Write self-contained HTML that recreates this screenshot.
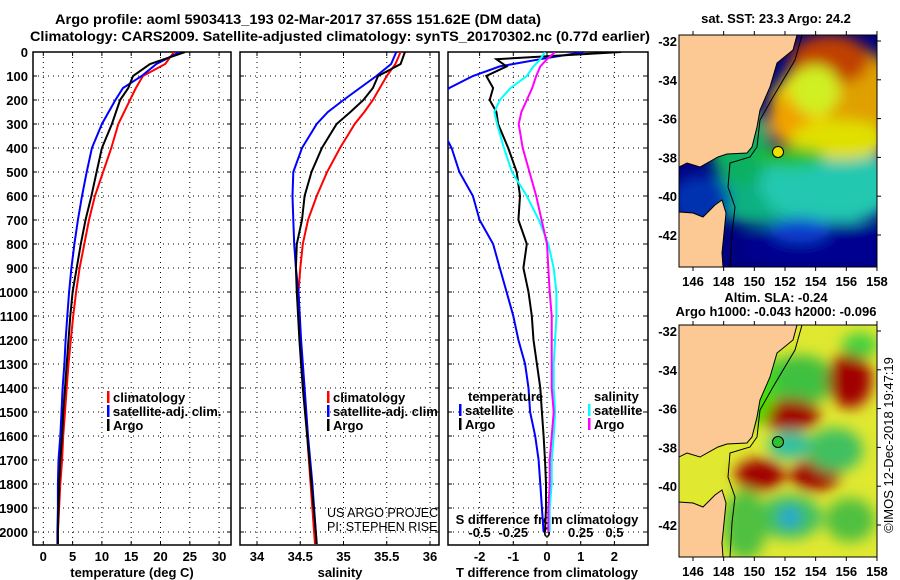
<!DOCTYPE html>
<html><head><meta charset="utf-8"><style>
html,body{margin:0;padding:0;background:#fff}
svg{display:block;font-family:"Liberation Sans",sans-serif}
.b{font-weight:bold;font-size:13px}
.t{font-weight:bold;font-size:14px}
</style></head><body>
<svg id="fig" width="900" height="580" viewBox="0 0 900 580" xmlns="http://www.w3.org/2000/svg">
<defs>
<clipPath id="c1"><rect x="33" y="52" width="198" height="493"/></clipPath>
<clipPath id="c2"><rect x="240" y="52" width="199" height="493"/></clipPath>
<clipPath id="c3"><rect x="448" y="52" width="200" height="493"/></clipPath>
<clipPath id="m1"><rect x="679" y="35" width="198" height="232"/></clipPath>
<clipPath id="m2"><rect x="679" y="325" width="198" height="232"/></clipPath>
<filter id="bl" x="-20%" y="-20%" width="140%" height="140%"><feGaussianBlur stdDeviation="7"/></filter>
</defs>
<text class="t" x="298" y="24" text-anchor="middle" textLength="486" lengthAdjust="spacingAndGlyphs">Argo profile: aoml 5903413_193 02-Mar-2017 37.65S 151.62E (DM data)</text>
<text class="t" x="340" y="41" text-anchor="middle" textLength="620" lengthAdjust="spacingAndGlyphs">Climatology: CARS2009. Satellite-adjusted climatology: synTS_20170302.nc (0.77d earlier)</text>
<g id="p1"></g>
<g id="p2"></g>
<g id="p3"></g>
<g id="maps"></g>
<text x="0" y="0" transform="translate(893,445) rotate(-90)" text-anchor="middle" style="font-size:13px">©IMOS 12-Dec-2018 19:47:19</text>
</svg>
<script>
const depthT = [0,50,100,150,200,300,400,500,600,700,800,900,1000,1100,1200,1300,1400,1500,1600,1700,1800,1900,2000,2050];
const tempClim = [22.3,20.8,17,15.8,14.8,12.8,11.6,10.2,8.8,7.8,7.0,6.2,5.6,5.1,4.7,4.3,4.0,3.7,3.4,3.2,2.9,2.7,2.5,2.5];
const tempArgo = [24.2,18.2,15.3,14.5,13.1,11.7,10.0,9.1,8.2,7.2,6.4,5.7,5.0,4.6,4.3,4.0,3.7,3.4,3.2,2.9,2.7,2.6,2.5,2.5];
const tempSat = [23.3,19.3,16.8,13.6,12.3,10.0,8.3,7.4,6.6,5.9,5.3,4.8,4.4,4.1,3.8,3.6,3.3,3.1,2.9,2.6,2.5,2.5,2.4,2.4];
const depthS = [0,50,100,150,200,250,300,400,500,600,700,800,900,1000,1200,1400,1600,1800,2000,2050];
const salClim = [35.66,35.6,35.50,35.42,35.34,35.24,35.13,34.96,34.81,34.69,34.59,34.53,34.50,34.48,34.5,34.54,34.58,34.62,34.66,34.67];
const salArgo = [35.71,35.66,35.40,35.34,35.23,35.08,34.92,34.75,34.63,34.55,34.52,34.46,34.45,34.46,34.49,34.53,34.58,34.63,34.68,34.69];
const salSat = [35.61,35.55,35.38,35.19,35.0,34.82,34.69,34.52,34.42,34.41,34.42,34.43,34.45,34.48,34.51,34.55,34.59,34.64,34.68,34.69];
const depthD = [0,30,60,100,150,200,250,300,400,500,600,700,800,900,1000,1100,1200,1300,1400,1500,1600,1700,1800,1900,2000];
const dTArgo = [2.2,-1.5,-1.2,-1.8,-1.6,-1.7,-1.5,-1.45,-1.15,-0.9,-0.8,-0.85,-0.6,-0.7,-0.55,-0.45,-0.4,-0.3,-0.2,-0.15,-0.1,-0.06,-0.03,-0.03,-0.06];
const dTSat = [1.1,-0.2,-1.4,-2.2,-2.9,-3.3,-3.4,-3.2,-2.83,-2.6,-2.2,-2.0,-1.6,-1.4,-1.2,-1.0,-0.85,-0.65,-0.55,-0.5,-0.35,-0.25,-0.2,-0.15,-0.1];
const dSSat = [-0.015,-0.05,-0.1,-0.15,-0.27,-0.35,-0.39,-0.37,-0.32,-0.26,-0.15,-0.06,0.01,0.05,0.07,0.07,0.06,0.05,0.05,0.06,0.05,0.035,0.035,0.02,0.02];
const dSArgo = [0.06,0.0,-0.05,-0.08,-0.11,-0.15,-0.19,-0.21,-0.18,-0.13,-0.08,-0.04,0.0,0.01,0.02,0.035,0.035,0.035,0.035,0.05,0.035,0.02,0.02,0.01,0.01];
const depthTicks = [0,100,200,300,400,500,600,700,800,900,1000,1100,1200,1300,1400,1500,1600,1700,1800,1900,2000];
const tempTicks = [0,5,10,15,20,25,30];
const salTicks = ["34","34.5","35","35.5","36"];
const dTTicks = [-2,-1,0,1,2];
const dSTicks = ["-0.5","-0.25","0","0.25","0.5"];
const lonTicks = [146,148,150,152,154,156,158];
const latTicks = [-32,-34,-36,-38,-40,-42];

const NS="http://www.w3.org/2000/svg";
function mk(tag, attrs, parent){const e=document.createElementNS(NS,tag);for(const k in attrs)e.setAttribute(k,attrs[k]);parent.appendChild(e);return e;}
const yD = d => 52 + d*0.24;
const xT = t => 43.3 + t*5.86;
const xS = s => 257 + (s-34)*86.5;
const xDT = t => 547 + t*33.7;
const xDS = s => 547 + s*134.8;

function panel(g, x0, x1, xs, xfn){
  for(const d of depthTicks){
    const l=mk('line',{x1:x0,x2:x1,y1:yD(d),y2:yD(d),stroke:'#000','stroke-width':1,'stroke-dasharray':'1,4'},g);
    
    
    mk('line',{x1:x0,x2:x0+4,y1:yD(d),y2:yD(d),stroke:'#000'},g);
    mk('line',{x1:x1-4,x2:x1,y1:yD(d),y2:yD(d),stroke:'#000'},g);
  }
  for(const v of xs){
    const x=xfn(+v);
    const l=mk('line',{x1:x,x2:x,y1:52,y2:545,stroke:'#000','stroke-width':1,'stroke-dasharray':'1,4'},g);
    
    
    mk('line',{x1:x,x2:x,y1:545,y2:541,stroke:'#000'},g);
    mk('line',{x1:x,x2:x,y1:52,y2:56,stroke:'#000'},g);
  }
  const r=mk('rect',{x:x0,y:52,width:x1-x0,height:493,fill:'none',stroke:'#000','stroke-width':1.5},g);
  
  
}
function line(g, depths, vals, fn, color, clip, name){
  const pts=depths.map((d,i)=>fn(vals[i]).toFixed(1)+','+yD(d).toFixed(1)).join(' ');
  const p=mk('polyline',{points:pts,fill:'none',stroke:color,'stroke-width':2,'clip-path':'url(#'+clip+')'},g);
  
  
}
function txt(g,x,y,s,cls,anchor,name,extra){
  const t=mk('text',Object.assign({x:x,y:y,class:cls,'text-anchor':anchor||'start'},extra||{}),g);
  t.textContent=s;
  
  
  return t;
}
function legend(g,x,y,items){
  items.forEach((it,i)=>{
    mk('rect',{x:x,y:y+i*14-11,width:2.5,height:12,fill:it[1]},g);
    txt(g,x+6,y+i*14,it[0],'b','start','legend-entry');
  });
}
const p1=document.getElementById('p1');
panel(p1,33,231,tempTicks,xT);
for(const d of depthTicks) txt(p1,28,yD(d)+5,String(d),'b','end','depth-tick-label');
for(const t of tempTicks) txt(p1,xT(t),561,String(t),'b','middle','temp-tick-label');
txt(p1,132,577,'temperature (deg C)','b','middle','x-axis-title');
line(p1,depthT,tempClim,xT,'#f00','c1','clim-temp-line');
line(p1,depthT,tempSat,xT,'#00f','c1','sat-temp-line');
line(p1,depthT,tempArgo,xT,'#000','c1','argo-temp-line');
legend(p1,107,402,[['climatology','#f00'],['satellite-adj. clim.','#00f'],['Argo','#000']]);
const p2=document.getElementById('p2');
panel(p2,240,439,salTicks,xS);
for(const s of salTicks) txt(p2,xS(+s),561,s,'b','middle','sal-tick-label');
txt(p2,340,577,'salinity','b','middle','x-axis-title');
line(p2,depthS,salClim,xS,'#f00','c2','clim-sal-line');
line(p2,depthS,salSat,xS,'#00f','c2','sat-sal-line');
line(p2,depthS,salArgo,xS,'#000','c2','argo-sal-line');
const lg2=mk('g',{'clip-path':'url(#c2)'},p2);
legend(lg2,327,402,[['climatology','#f00'],['satellite-adj. clim.','#00f'],['Argo','#000']]);
txt(lg2,327,517,'US ARGO PROJECT','','start','credit-line-1',{style:'font-size:12.5px'});
txt(lg2,327,531,'PI: STEPHEN RISER','','start','credit-line-2',{style:'font-size:12.5px'});
const p3=document.getElementById('p3');
panel(p3,448,648,dTTicks,xDT);
for(const t of dTTicks) txt(p3,xDT(t),561,String(t),'b','middle','dt-tick-label');
for(const s of dSTicks) txt(p3,xDS(+s),537,s,'b','middle','ds-tick-label');
txt(p3,547,524,'S difference from climatology','b','middle','s-axis-title');
txt(p3,547,577,'T difference from climatology','b','middle','x-axis-title');
line(p3,depthD,dTSat,xDT,'#00f','c3','sat-dt-line');
line(p3,depthD,dTArgo,xDT,'#000','c3','argo-dt-line');
line(p3,depthD,dSSat,xDS,'#0ff','c3','sat-ds-line');
line(p3,depthD,dSArgo,xDS,'#f0f','c3','argo-ds-line');
txt(p3,468,401,'temperature','b','start','legend-title-temp');
legend(p3,459,415,[['satellite','#00f'],['Argo','#000']]);
txt(p3,594,401,'salinity','b','start','legend-title-sal');
legend(p3,588,415,[['satellite','#0ff'],['Argo','#f0f']]);

const maps=document.getElementById('maps');
const xL = lon => 693 + (lon-146)*15.33;
function yLat(lat, top){ return top + 6 + (-32-lat)*19.4; }
const coastA=[[679,0],[797,0],[793,15],[777,28],[770,52],[760,75],[757,92],[752,112],[747,118],[727,119],[718,122],[700,132],[687,128],[679,132]];
const coastB=[[679,177],[693,178],[703,182],[715,170],[722,165],[726,178],[724,198],[722,218],[723,232],[679,232]];
const iso=[[802,0],[795,25],[773,62],[760,85],[757,112],[750,122],[730,128],[728,152],[735,172],[732,198],[730,232]];
function drawMap(top, blobs, bg, clip, name, marker){
  const g=mk('g',{},maps);
  
  
  const c=mk('g',{'clip-path':'url(#'+clip+')'},g);
  mk('rect',{x:679,y:top,width:198,height:232,fill:bg},c);
  const bg2=mk('g',{filter:'url(#bl)'},c);
  for(const b of blobs) mk('ellipse',{cx:b[0],cy:top+b[1],rx:b[2],ry:b[3],fill:b[4]},bg2);
  const P=a=>a.map(p=>p[0]+','+(p[1]+top)).join(' ');
  mk('polygon',{points:P(coastA),fill:'#fcc894',stroke:'#000','stroke-width':1},c);
  mk('polygon',{points:P(coastB),fill:'#fcc894',stroke:'#000','stroke-width':1},c);
  mk('polyline',{points:P(iso),fill:'none',stroke:'#000','stroke-width':1},c);
  const m=mk('circle',{cx:778,cy:top+117,r:5.5,fill:marker,stroke:'#000','stroke-width':1},g);
  
  
  mk('rect',{x:679,y:top,width:198,height:232,fill:'none',stroke:'#000','stroke-width':1},g);
  for(const lon of lonTicks){
    const x=xL(lon);
    mk('line',{x1:x,x2:x,y1:top,y2:top-4,stroke:'#000'},g);
    mk('line',{x1:x,x2:x,y1:top+232,y2:top+236,stroke:'#000'},g);
    txt(g,x,top+251,String(lon),'b','middle','lon-tick-label');
  }
  for(const lat of latTicks){
    const y=yLat(lat,top);
    mk('line',{x1:877,x2:881,y1:y,y2:y,stroke:'#000'},g);
    txt(g,677,y+5,String(lat),'b','end','lat-tick-label');
  }
}
drawMap(35,[
 [760,160,50,30,'#10b080'],[830,150,70,40,'#20c8b0'],[740,110,30,40,'#10b060'],
 [840,60,60,50,'#e0a000'],[800,70,30,30,'#f0d000'],[830,25,40,25,'#c04000'],
 [790,85,22,25,'#f0a000'],[840,105,50,20,'#e0e000'],[815,55,25,25,'#d0f020'],
 [790,122,35,10,'#20c020'],[830,212,90,25,'#000090'],[800,195,30,12,'#1040d0'],[700,165,30,25,'#0030b0']
],'#000080','m1','sst-map','#f0e000');
drawMap(325,[
 [800,55,18,12,'#20b0e0'],[800,55,35,25,'#40c040'],[790,90,30,16,'#a00000'],
 [850,55,22,28,'#a00000'],[760,150,25,16,'#a00000'],[815,150,25,16,'#a00000'],
 [790,120,22,14,'#30c0a0'],[835,125,28,22,'#40c060'],[790,192,32,22,'#40c060'],[790,192,10,10,'#20a0e0'],
 [850,195,25,22,'#50c040'],[755,60,20,40,'#40e000'],[745,200,22,35,'#50c040'],[860,20,18,12,'#40d040']
],'#e0e830','m2','sla-map','#30c030');
txt(maps,776,23,'sat. SST: 23.3 Argo: 24.2','b','middle','sst-map-title');
txt(maps,776,302,'Altim. SLA: -0.24','b','middle','sla-map-title-1');
txt(maps,776,316,'Argo h1000: -0.043 h2000: -0.096','b','middle','sla-map-title-2');
</script>
</body></html>
